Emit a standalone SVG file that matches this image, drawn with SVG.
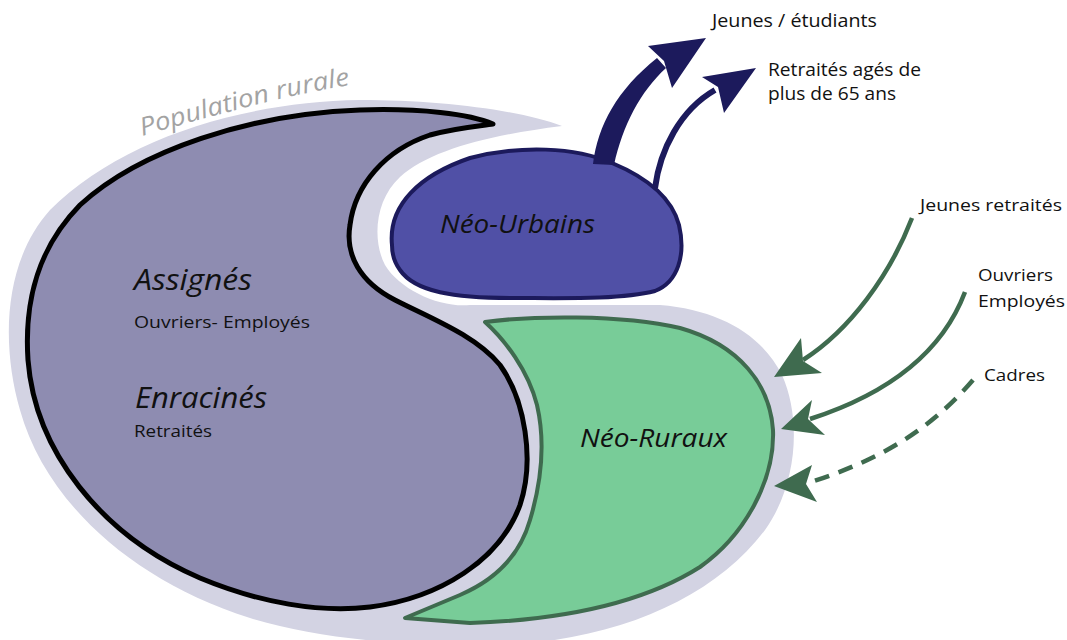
<svg xmlns="http://www.w3.org/2000/svg" width="1067" height="640" viewBox="0 0 1067 640">
<defs>
<style>
.lbl{font-family:"Open Sans","Noto Sans","Liberation Sans",sans-serif;fill:#111;}
.big{font-style:italic;}
.navy{fill:#1c1a5c;}
.gstroke{fill:none;stroke:#3f6b4f;stroke-width:4.5;stroke-linecap:butt;}
.ghead{fill:#3f6b4f;}
</style>
<path id="popPath" d="M142,136 Q290,93 352,85"/>
</defs>
<rect width="1067" height="640" fill="#ffffff"/>
<g id="population-rurale">
<path d="M562,126 C520,110 440,100 360,100 C240,102 120,140 50,210 C5,260 0,340 20,410 C45,500 130,580 250,618 C330,642 440,650 540,642 C640,630 720,590 765,530 C797,485 802,420 782,375 C762,335 720,310 660,305 L470,305 C440,308 400,290 385,265 C372,240 375,200 400,177 C430,150 490,135 562,126 Z" fill="#d3d3e3"/>
<text class="lbl big" font-size="25" style="fill:#a3a3a3"><textPath href="#popPath" textLength="214" lengthAdjust="spacingAndGlyphs">Population rurale</textPath></text>
</g>
<g id="assignes">
<path d="M493,124 C470,114 420,108 360,110 C250,114 140,150 80,205 C38,248 24,300 28,360 C35,450 100,535 200,578 C260,603 320,613 370,607 C440,598 500,560 520,505 C535,460 525,400 500,365 C475,335 430,318 395,300 C360,282 345,255 350,225 C355,185 385,150 430,135 C455,128 480,126 493,124 Z" fill="#8e8cb1" stroke="#000" stroke-width="5" stroke-linejoin="round"/>
<text class="lbl big" x="134" y="290" font-size="30" textLength="118" lengthAdjust="spacingAndGlyphs">Assignés</text>
<text class="lbl" x="134" y="328" font-size="17" textLength="176" lengthAdjust="spacingAndGlyphs">Ouvriers- Employés</text>
<text class="lbl big" x="135" y="408" font-size="30" textLength="132" lengthAdjust="spacingAndGlyphs">Enracinés</text>
<text class="lbl" x="134" y="437" font-size="17" textLength="78" lengthAdjust="spacingAndGlyphs">Retraités</text>
</g>
<g id="neo-urbains">
<path d="M392,245 C388,205 420,175 470,158 C520,145 575,147 612,163 C648,178 672,198 679,225 C686,255 678,282 655,291 C620,300 560,298 510,298 C455,298 415,292 400,270 C394,262 392,254 392,245 Z" fill="#5050a6" stroke="#1c1a5c" stroke-width="4" stroke-linejoin="round"/>
<text class="lbl big" x="440" y="233" font-size="26" textLength="155" lengthAdjust="spacingAndGlyphs">Néo-Urbains</text>
</g>
<g id="neo-ruraux">
<path d="M485,322 C530,316 620,314 680,328 C740,345 770,385 773,430 C775,480 745,535 700,567 C640,605 560,620 470,623 L405,618 L460,595 C495,580 520,555 530,520 C542,480 545,440 537,405 C528,370 505,340 485,322 Z" fill="#78cc98" stroke="#3f6b4f" stroke-width="4" stroke-linejoin="round"/>
<text class="lbl big" x="580" y="447" font-size="26" textLength="147" lengthAdjust="spacingAndGlyphs">Néo-Ruraux</text>
</g>
<g id="labels">
<text class="lbl" x="712" y="27" font-size="18" textLength="165" lengthAdjust="spacingAndGlyphs">Jeunes / étudiants</text>
<text class="lbl" x="768" y="76" font-size="18" textLength="153" lengthAdjust="spacingAndGlyphs">Retraités agés de</text>
<text class="lbl" x="768" y="100" font-size="18" textLength="128" lengthAdjust="spacingAndGlyphs">plus de 65 ans</text>
<text class="lbl" x="920" y="211" font-size="17" textLength="142" lengthAdjust="spacingAndGlyphs">Jeunes retraités</text>
<text class="lbl" x="978" y="281" font-size="17" textLength="75" lengthAdjust="spacingAndGlyphs">Ouvriers</text>
<text class="lbl" x="978" y="307" font-size="17" textLength="87" lengthAdjust="spacingAndGlyphs">Employés</text>
<text class="lbl" x="984" y="381" font-size="17" textLength="61" lengthAdjust="spacingAndGlyphs">Cadres</text>
</g>
<g id="connectors">
<path class="navy" d="M593,164 C598,125 617,90 657,58 L666,68 C640,92 623,125 614,165 Z"/>
<path class="navy" d="M706,38 L648,46 L664,61 L672,88 Z"/>
<path d="M655,188 C660,150 680,110 715,90" fill="none" stroke="#1c1a5c" stroke-width="6"/>
<path class="navy" d="M756,68 L702,77 L718,87 L724,113 Z"/>
<path class="gstroke" d="M912,218 C890,275 850,330 803,360"/>
<path class="ghead" d="M774,377 L801,338 L803,361 L822,373 Z"/>
<path class="gstroke" d="M965,292 C945,345 900,390 810,419"/>
<path class="ghead" d="M781,429 L812,400 L808,419 L825,435 Z"/>
<path class="gstroke" d="M973,380 C930,430 880,460 808,483" stroke-dasharray="15 10"/>
<path class="ghead" d="M774,486 L812,465 L806,484 L817,502 Z"/>
</g>
</svg>
